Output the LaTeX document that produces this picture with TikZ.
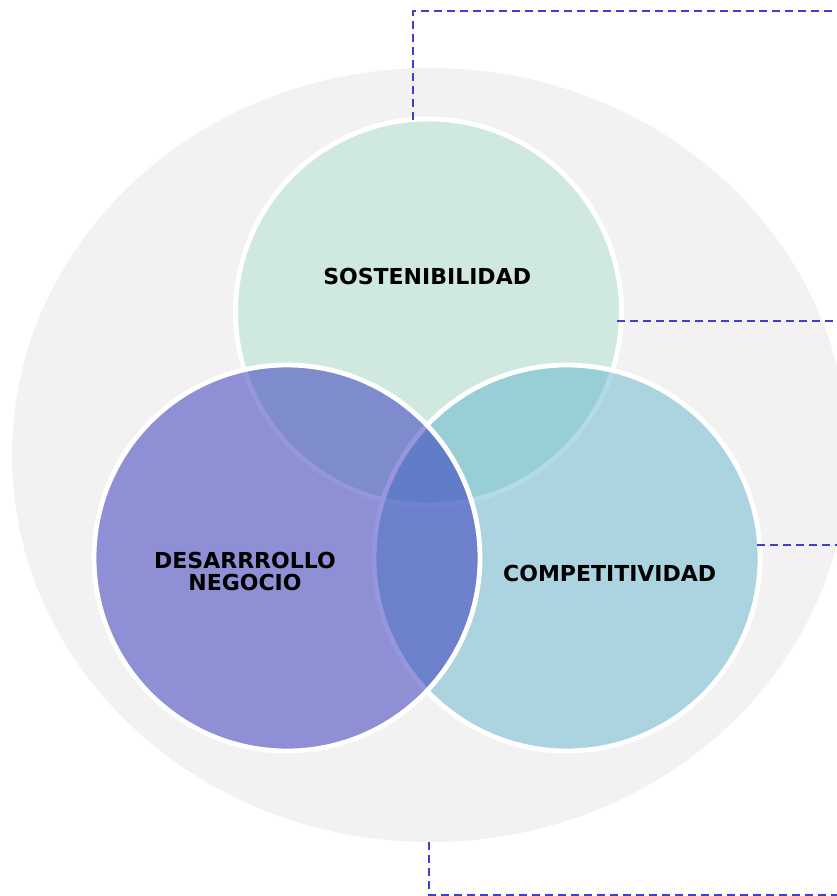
\documentclass[tikz,border=0pt]{standalone}
\usepackage{fontspec}
\usetikzlibrary{shapes.geometric}
\setmainfont{DejaVu Sans}
\definecolor{bggrey}{RGB}{242,242,242}
\definecolor{topc}{RGB}{207,233,223}
\definecolor{rightc}{RGB}{86,175,204}
\definecolor{leftc}{RGB}{46,46,186}
\definecolor{dashc}{RGB}{62,62,214}
\tikzset{
  venn/.style={circle, minimum size=386pt, inner sep=0pt, draw=white, line width=4.8pt},
  lbl/.style={font=\bfseries\fontsize{22}{22.2}\selectfont, text=black, align=center, inner sep=0pt},
  link/.style={draw=dashc, line width=2.2pt, dash pattern=on 8pt off 5pt},
}
\begin{document}
\begin{tikzpicture}[x=1pt,y=-1pt]
\useasboundingbox (0,0) rectangle (837,896);
\fill[white] (0,0) rectangle (837,896);
\node[ellipse, fill=bggrey, minimum width=836pt, minimum height=774pt, inner sep=0pt] (bg) at (430,455) {};
\node[venn, fill=topc] (top) at (428.5,312) {};
\node[venn, fill=rightc, fill opacity=0.45] (right) at (567,558) {};
\node[venn, fill=leftc, fill opacity=0.5] (left) at (287,558) {};
\node[lbl] (ltop) at (427.2,276.3) {SOSTENIBILIDAD};
\node[lbl] (lleft) at (245,571.3) {DESARRROLLO\\NEGOCIO};
\node[lbl] (lright) at (609.7,573) {COMPETITIVIDAD};
\coordinate (a1) at (413,120);
\coordinate (a2) at (413,11);
\coordinate (a3) at (837,11);
\coordinate (b1) at (617,321);
\coordinate (b2) at (837,321);
\coordinate (c1) at (757,545);
\coordinate (c2) at (837,545);
\coordinate (d1) at (429,842);
\coordinate (d2) at (429,895);
\coordinate (d3) at (837,895);
\draw[link] (a1) -- (a2) -- (a3);
\draw[link] (b1) -- (b2);
\draw[link] (c1) -- (c2);
\draw[link] (d1) -- (d2) -- (d3);
\end{tikzpicture}
\end{document}
